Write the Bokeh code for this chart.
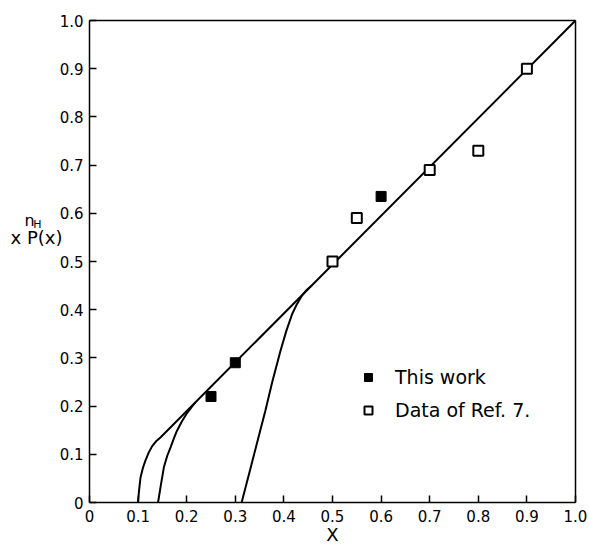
from bokeh.plotting import figure
from bokeh.models import Range1d, Legend, LegendItem, Label, FixedTicker, LinearAxis
from bokeh.embed import file_html
from bokeh.resources import INLINE

# ---- data ----
tick_vals = [0.0, 0.1, 0.2, 0.3, 0.4, 0.5, 0.6, 0.7, 0.8, 0.9, 1.0]
tick_labels = ["0", "0.1", "0.2", "0.3", "0.4", "0.5", "0.6", "0.7", "0.8", "0.9", "1.0"]

this_x = [0.25, 0.30, 0.60]
this_y = [0.22, 0.29, 0.635]

ref_x = [0.50, 0.55, 0.70, 0.80, 0.90]
ref_y = [0.50, 0.59, 0.69, 0.73, 0.90]

curve_a_x = [0.0995, 0.102, 0.105, 0.110, 0.115, 0.122, 0.129, 0.137, 0.146, 1.0]
curve_a_y = [0.0, 0.025, 0.052, 0.072, 0.087, 0.104, 0.117, 0.127, 0.135, 1.0]

curve_b_x = [0.141, 0.147, 0.153, 0.160, 0.167, 0.174, 0.180, 0.190, 0.201, 0.218]
curve_b_y = [0.0, 0.037, 0.073, 0.097, 0.115, 0.134, 0.149, 0.168, 0.186, 0.208]

curve_c_x = [0.313, 0.330, 0.350, 0.362, 0.376, 0.393, 0.405, 0.417, 0.427, 0.437, 0.447, 0.458]
curve_c_y = [0.0, 0.066, 0.144, 0.191, 0.250, 0.315, 0.356, 0.391, 0.412, 0.429, 0.441, 0.451]

FONT = "DejaVu Sans"

W, H = 589, 546
X0, X1 = 89, 575      # pixel columns of x = 0 and x = 1
Y0, Y1 = 502, 20      # pixel rows of y = 0 and y = 1
sx = (X1 - X0)
sy = (Y0 - Y1)

p = figure(width=W, height=H, output_backend="svg", toolbar_location=None,
           x_range=Range1d(-X0 / sx, 1 + (W - X1) / sx),
           y_range=Range1d(-(H - Y0) / sy, 1 + Y1 / sy),
           min_border=0, x_axis_location=None, y_axis_location=None)
p.grid.visible = False
p.outline_line_color = None
p.background_fill_color = "white"
p.border_fill_color = "white"

xax = LinearAxis(fixed_location=0, bounds=(0, 1))
yax = LinearAxis(fixed_location=0, bounds=(0, 1))
p.add_layout(xax, "below")
p.add_layout(yax, "left")
for ax in (xax, yax):
    ax.ticker = FixedTicker(ticks=tick_vals)
    ax.major_label_overrides = {v: l for v, l in zip(tick_vals, tick_labels)}
    ax.major_tick_in = 7
    ax.major_tick_out = 0
    ax.minor_tick_line_color = None
    ax.axis_line_width = 1.5
    ax.major_tick_line_width = 1.5
    ax.major_label_text_font = FONT
    ax.major_label_text_font_size = "15px"
    ax.major_label_text_color = "black"
xax.major_label_standoff = 7
yax.major_label_standoff = 6

# top and right edges of the box
top = LinearAxis(fixed_location=1, bounds=(0, 1), ticker=FixedTicker(ticks=[]))
right = LinearAxis(fixed_location=1, bounds=(0, 1), ticker=FixedTicker(ticks=[]))
for ax in (top, right):
    ax.axis_line_width = 1.5
    ax.major_tick_line_color = None
    ax.minor_tick_line_color = None
p.add_layout(top, "above")
p.add_layout(right, "right")

line_kw = dict(line_color="black", line_width=2)
p.line(curve_a_x, curve_a_y, **line_kw)
p.line(curve_b_x, curve_b_y, **line_kw)
p.line(curve_c_x, curve_c_y, **line_kw)

r1 = p.scatter(this_x, this_y, marker="square", size=10, fill_color="black", line_color="black", line_width=1)
r2 = p.scatter(ref_x, ref_y, marker="square", size=10, fill_color="white", line_color="black", line_width=2)

legend = Legend(items=[LegendItem(label="This work", renderers=[r1]),
                       LegendItem(label="Data of Ref. 7.", renderers=[r2])],
                location=(358, 125), padding=0, margin=0, spacing=11,
                glyph_width=20, glyph_height=20, label_height=20, label_standoff=17,
                border_line_color=None, background_fill_alpha=0,
                label_text_font=FONT, label_text_font_size="19px", label_text_color="black")
p.add_layout(legend)

# axis titles
p.add_layout(Label(x=0.5, y=(Y0 - 534) / sy, text="X", text_font=FONT, text_font_size="18px",
                   text_color="black", text_align="center", text_baseline="middle"))
p.add_layout(Label(x=(29 - X0) / sx, y=(Y0 - 220) / sy, text="n", text_font=FONT, text_font_size="16px",
                   text_color="black", text_align="center", text_baseline="middle"))
p.add_layout(Label(x=(37 - X0) / sx, y=(Y0 - 224) / sy, text="H", text_font=FONT, text_font_size="11px",
                   text_color="black", text_align="center", text_baseline="middle"))
p.add_layout(Label(x=(36 - X0) / sx, y=(Y0 - 237) / sy, text="x P(x)", text_font=FONT, text_font_size="18px",
                   text_color="black", text_align="center", text_baseline="middle"))

open("out.html", "w").write(file_html(p, INLINE))
